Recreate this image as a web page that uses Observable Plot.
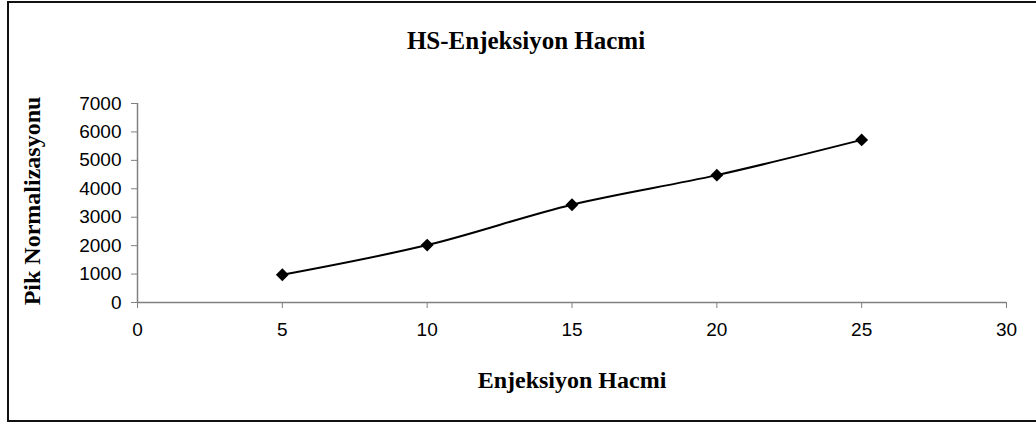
<!DOCTYPE html>
<html>
<head>
<meta charset="utf-8">
<script src="https://cdn.jsdelivr.net/npm/d3@7"></script>
<script src="https://cdn.jsdelivr.net/npm/@observablehq/plot@0.6"></script>
<style>
  html, body { margin: 0; padding: 0; background: #fff; }
  #wrap { position: relative; width: 1036px; height: 423px; overflow: hidden; }
  #border { position: absolute; left: 7px; top: 1px; width: 1040px; height: 421px; border: 2px solid #111; box-sizing: border-box; pointer-events: none; }
  #chart { position: absolute; left: 0; top: 0; }
</style>
</head>
<body>
<div id="wrap"><div id="chart"></div><div id="border"></div></div>
<script>
const title = "HS-Enjeksiyon Hacmi";
const xLabel = "Enjeksiyon Hacmi";
const yLabel = "Pik Normalizasyonu";
const volumes = [5, 10, 15, 20, 25];
const peaks = [975, 2020, 3440, 4480, 5720];
const xTicks = [0, 5, 10, 15, 20, 25, 30];
const yTicks = [0, 1000, 2000, 3000, 4000, 5000, 6000, 7000];

const data = volumes.map((v, i) => ({x: v, y: peaks[i]}));
const serif = "'Liberation Serif', 'Times New Roman', serif";
const sans = "'Liberation Sans', Arial, sans-serif";

const chart = Plot.plot({
  width: 1036,
  height: 423,
  marginLeft: 137,
  marginRight: 30,
  marginTop: 103,
  marginBottom: 121,
  style: {fontFamily: sans, background: "transparent", overflow: "visible"},
  x: {domain: [0, 30], ticks: xTicks},
  y: {domain: [0, 7000], ticks: yTicks},
  marks: [
    Plot.axisX({ticks: xTicks, tickSize: 6, tickPadding: 14, fontSize: 19, label: null, stroke: "#808080", color: "#000", tickFormat: d => String(d)}),
    Plot.axisY({ticks: yTicks, tickSize: 6, tickPadding: 10, fontSize: 19, label: null, stroke: "#808080", color: "#000", tickFormat: d => String(d)}),
    Plot.ruleY([0], {stroke: "#808080", strokeWidth: 1.5}),
    Plot.ruleX([0], {stroke: "#808080", strokeWidth: 1.5}),
    Plot.line(data, {x: "x", y: "y", stroke: "#000", strokeWidth: 2, curve: "catmull-rom"}),
    Plot.dot(data, {x: "x", y: "y", symbol: "diamond2", r: 5.8, fill: "#000", stroke: "none"}),
    Plot.text([title], {frameAnchor: "top", dx: -46, dy: -63, text: d => d, textAnchor: "middle", lineAnchor: "middle", fontFamily: serif, fontWeight: "bold", fontSize: 25, fill: "#000"}),
    Plot.text([yLabel], {frameAnchor: "left", dx: -105, dy: -2, text: d => d, rotate: -90, textAnchor: "middle", lineAnchor: "middle", fontFamily: serif, fontWeight: "bold", fontSize: 24, fill: "#000"}),
    Plot.text([xLabel], {frameAnchor: "bottom", dy: 78, text: d => d, textAnchor: "middle", lineAnchor: "middle", fontFamily: serif, fontWeight: "bold", fontSize: 24, fill: "#000"})
  ]
});
document.getElementById("chart").appendChild(chart);
</script>
</body>
</html>
